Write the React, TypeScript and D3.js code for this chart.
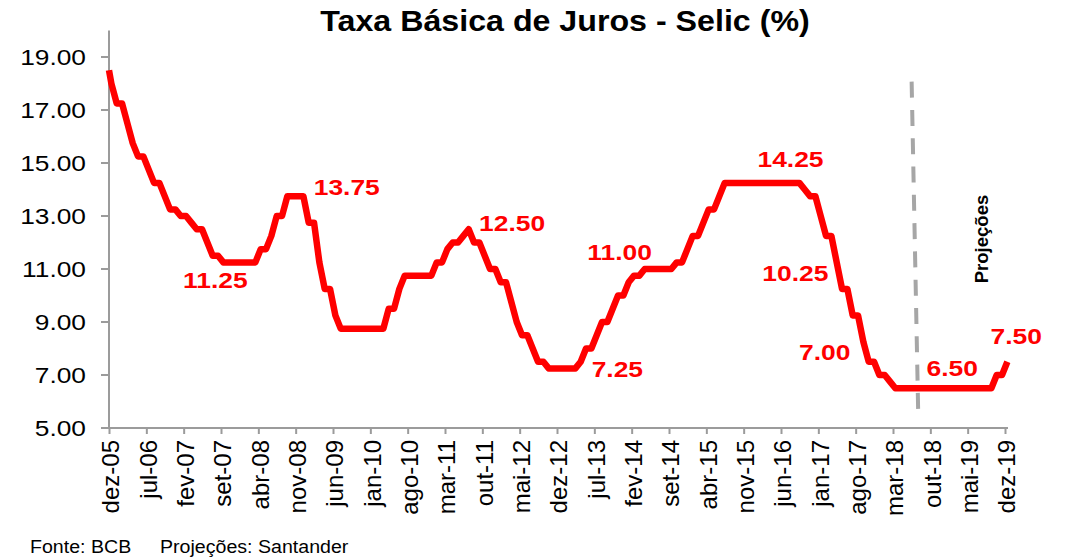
import React from 'react';
import * as d3 from 'd3';

// Selic target rate (%), end-of-month values
const selic2005 = [18.5, 18.0]; // nov, dez
const selic2006 = [17.25, 17.25, 16.5, 15.75, 15.25, 15.25, 14.75, 14.25, 14.25, 13.75, 13.25, 13.25];
const selic2007 = [13.0, 13.0, 12.75, 12.5, 12.5, 12.0, 11.5, 11.5, 11.25, 11.25, 11.25, 11.25];
const selic2008 = [11.25, 11.25, 11.25, 11.75, 11.75, 12.25, 13.0, 13.0, 13.75, 13.75, 13.75, 13.75];
const selic2009 = [12.75, 12.75, 11.25, 10.25, 10.25, 9.25, 8.75, 8.75, 8.75, 8.75, 8.75, 8.75];
const selic2010 = [8.75, 8.75, 8.75, 9.5, 9.5, 10.25, 10.75, 10.75, 10.75, 10.75, 10.75, 10.75];
const selic2011 = [11.25, 11.25, 11.75, 12.0, 12.0, 12.25, 12.5, 12.0, 12.0, 11.5, 11.0, 11.0];
const selic2012 = [10.5, 10.5, 9.75, 9.0, 8.5, 8.5, 8.0, 7.5, 7.5, 7.25, 7.25, 7.25];
const selic2013 = [7.25, 7.25, 7.25, 7.5, 8.0, 8.0, 8.5, 9.0, 9.0, 9.5, 10.0, 10.0];
const selic2014 = [10.5, 10.75, 10.75, 11.0, 11.0, 11.0, 11.0, 11.0, 11.0, 11.25, 11.25, 11.75];
const selic2015 = [12.25, 12.25, 12.75, 13.25, 13.25, 13.75, 14.25, 14.25, 14.25, 14.25, 14.25, 14.25];
const selic2016 = [14.25, 14.25, 14.25, 14.25, 14.25, 14.25, 14.25, 14.25, 14.25, 14.0, 13.75, 13.75];
const selic2017 = [13.0, 12.25, 12.25, 11.25, 10.25, 10.25, 9.25, 9.25, 8.25, 7.5, 7.5, 7.0];
const selic2018 = [7.0, 6.75, 6.5, 6.5, 6.5, 6.5, 6.5, 6.5, 6.5, 6.5, 6.5, 6.5];
const selic2019 = [6.5, 6.5, 6.5, 6.5, 6.5, 6.5, 6.5, 6.5, 6.5, 7.0, 7.0, 7.5];

const tickLabels = [
  'dez-05', 'jul-06', 'fev-07', 'set-07', 'abr-08', 'nov-08', 'jun-09', 'jan-10', 'ago-10',
  'mar-11', 'out-11', 'mai-12', 'dez-12', 'jul-13', 'fev-14', 'set-14', 'abr-15', 'nov-15',
  'jun-16', 'jan-17', 'ago-17', 'mar-18', 'out-18', 'mai-19', 'dez-19',
];
const tickStep = 7; // months between labels
const yTicks = [5, 7, 9, 11, 13, 15, 17, 19];

// annotation labels: text, anchor month index (0 = dez-05), anchor value (baseline)
const labelTexts = ['13.75', '12.50', '11.25', '11.00', '7.25', '14.25', '10.25', '7.00', '6.50', '7.50'];
const labelMonths = [38.3, 69.3, 13.8, 89.6, 90.4, 121.5, 122.4, 129.3, 153.2, 165.2];
const labelValues = [13.79, 12.43, 10.28, 11.34, 6.91, 14.86, 10.56, 7.57, 6.97, 8.17];

// projection marker (dashed line)
const projMonths = [150.4, 151.65];
const projValues = [18.07, 5.38];

const FONT = '"Liberation Sans", Arial, Helvetica, sans-serif';
const RED = '#FF0000';
const AXIS = '#9B9B9B';

export default function App() {
  const W = 1066;
  const H = 559;
  const series = [
    ...selic2005, ...selic2006, ...selic2007, ...selic2008, ...selic2009, ...selic2010,
    ...selic2011, ...selic2012, ...selic2013, ...selic2014, ...selic2015, ...selic2016,
    ...selic2017, ...selic2018, ...selic2019,
  ];
  const lastMonth = (tickLabels.length - 1) * tickStep; // 168
  const x = d3.scaleLinear().domain([0, lastMonth]).range([109.5, 1005.5]);
  const y = d3.scaleLinear().domain([5, 20]).range([428, 30.5]);
  const xLeft = 109;
  const xRight = 1008;

  const pts = series.map((v, k) => ({ m: k - 1, v }));
  const line = d3
    .line<{ m: number; v: number }>()
    .x((d) => (d.m < 0 ? xLeft : x(d.m + 0.35)))
    .y((d) => y(d.v));

  const ticks = tickLabels.map((t, i) => ({ t, m: i * tickStep }));

  return (
    <svg width={W} height={H} style={{ position: 'absolute', left: 0, top: 0, background: '#fff' }} fontFamily={FONT}>
      {/* title */}
      <g transform={`translate(565,31) scale(1.11,1)`}>
        <text textAnchor="middle" fontSize={29} fontWeight="bold" fill="#000">
          Taxa Básica de Juros - Selic (%)
        </text>
      </g>

      {/* y axis */}
      <line x1={xLeft} x2={xLeft} y1={y(20)} y2={y(5)} stroke={AXIS} strokeWidth={2} />
      {yTicks.map((v) => (
        <g key={v}>
          <line x1={xLeft - 8} x2={xLeft} y1={y(v)} y2={y(v)} stroke={AXIS} strokeWidth={2} />
          <g transform={`translate(86,${y(v) + 8}) scale(1.17,1)`}>
            <text textAnchor="end" fontSize={22.5} fill="#000">
              {v.toFixed(2)}
            </text>
          </g>
        </g>
      ))}

      {/* x axis */}
      <line x1={xLeft} x2={xRight} y1={y(5)} y2={y(5)} stroke={AXIS} strokeWidth={2} />
      {ticks.map((d) => (
        <g key={d.t}>
          <line x1={x(d.m)} x2={x(d.m)} y1={y(5)} y2={y(5) + 6} stroke={AXIS} strokeWidth={2} />
          <g transform={`translate(${x(d.m) + 1.5},440) rotate(-90)`}>
            <text textAnchor="end" dy="0.35em" fontSize={24} fill="#000">
              {d.t}
            </text>
          </g>
        </g>
      ))}

      {/* projection marker */}
      <line
        x1={x(projMonths[0])}
        y1={y(projValues[0])}
        x2={x(projMonths[1])}
        y2={y(projValues[1])}
        stroke="#A6A6A6"
        strokeWidth={4}
        strokeDasharray="16 12.3"
      />
      <g transform={`translate(988,239) rotate(-90)`}>
        <text textAnchor="middle" fontSize={18.5} fontWeight="bold" fill="#000">
          Projeções
        </text>
      </g>

      {/* series */}
      <path d={line(pts) || ''} fill="none" stroke={RED} strokeWidth={6.5} strokeLinejoin="round" />

      {/* annotations */}
      {labelTexts.map((t, i) => (
        <g key={t + i} transform={`translate(${x(labelMonths[i])},${y(labelValues[i])}) scale(1.2,1)`}>
          <text fontSize={22} fontWeight="bold" fill={RED}>
            {t}
          </text>
        </g>
      ))}

      {/* footer */}
      <g transform="translate(30,553) scale(1.12,1)">
        <text fontSize={17.5} fill="#000">Fonte: BCB</text>
      </g>
      <g transform="translate(160,553) scale(1.12,1)">
        <text fontSize={17.5} fill="#000">Projeções: Santander</text>
      </g>
    </svg>
  );
}
